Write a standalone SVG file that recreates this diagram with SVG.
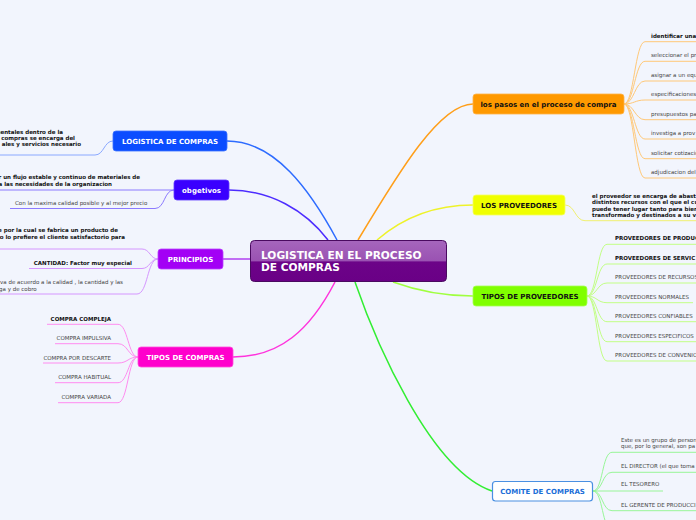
<svg xmlns="http://www.w3.org/2000/svg" width="696" height="520" viewBox="0 0 696 520">
<defs>
<linearGradient id="cg" x1="0" y1="0" x2="0" y2="1">
<stop offset="0" stop-color="#a666bd"/>
<stop offset="0.5" stop-color="#9a52b2"/>
<stop offset="0.52" stop-color="#6c0388"/>
<stop offset="1" stop-color="#6a0086"/>
</linearGradient>
<style>
text{font-family:"DejaVu Sans",Verdana,sans-serif}
.nl{font-size:7px;font-weight:bold;text-anchor:middle}
.w{fill:#fff}.k{fill:#111}
.c{font-size:5.5px;fill:#444}
.b{font-size:5.5px;fill:#111;font-weight:bold}
.e{text-anchor:end}
.m{fill:none;stroke-width:1.5}
.s{fill:none;stroke-width:1}
</style>
</defs>
<rect width="696" height="520" fill="#f2f5fd"/>
<g id="connectors">
<path class="m" stroke="#2d6bff" d="M227,141 C275,141 310,190 337,240"/>
<path class="m" stroke="#4d2cff" d="M229,190 C270,190 305,210 328,240"/>
<path class="m" stroke="#b040f0" d="M223,259 L250,259"/>
<path class="m" stroke="#ff33dd" d="M335,282 C310,330 280,357 233,357"/>
<path class="m" stroke="#ff9f1a" d="M358,240 C400,170 440,104 473,104"/>
<path class="m" stroke="#eef22a" d="M377,240 C400,220 430,205 473,205"/>
<path class="m" stroke="#a0ff40" d="M393,282 C415,290 440,296 473,296"/>
<path class="m" stroke="#33ee33" d="M355,282 C375,340 430,470 492,491"/>
<g stroke="#8aa8ff"><path class="s" d="M113,141 C104,141 104,155 95,155 L0,155"/></g>
<g stroke="#8c7aff">
<path class="s" d="M174,190 L0,190"/>
<path class="s" d="M174,190 C164,190 165,208.5 155,208.5 L10,208.5"/>
</g>
<g stroke="#d596ff">
<path class="s" d="M158,259 C150,259 150,249 142,249 L0,249"/>
<path class="s" d="M158,259 C150,259 150,268.5 142,268.5 L29,268.5"/>
<path class="s" d="M158,259 C147,259 148,294 137,294 L0,294"/>
</g>
<g stroke="#ff8cf0">
<path class="s" d="M138,357 C128,357 128,324.3 118,324.3 L47,324.3"/>
<path class="s" d="M138,357 C128,357 128,343.7 118,343.7 L55,343.7"/>
<path class="s" d="M138,357 C128,357 128,363 118,363 L43,363"/>
<path class="s" d="M138,357 C128,357 128,382.7 118,382.7 L55,382.7"/>
<path class="s" d="M138,357 C128,357 128,402.7 118,402.7 L58,402.7"/>
</g>
<g stroke="#ffc878">
<path class="s" d="M624,104 C634,104 635,41.7 645,41.7 L696,41.7"/>
<path class="s" d="M624,104 C634,104 635,61.3 645,61.3 L696,61.3"/>
<path class="s" d="M624,104 C634,104 635,81 645,81 L696,81"/>
<path class="s" d="M624,104 C634,104 635,100 645,100 L696,100"/>
<path class="s" d="M624,104 C634,104 635,119.7 645,119.7 L696,119.7"/>
<path class="s" d="M624,104 C634,104 635,139 645,139 L696,139"/>
<path class="s" d="M624,104 C634,104 635,158.7 645,158.7 L696,158.7"/>
<path class="s" d="M624,104 C634,104 635,178 645,178 L696,178"/>
</g>
<g stroke="#f0f070"><path class="s" d="M565,205 C575,205 575,220.7 585,220.7 L696,220.7"/></g>
<g stroke="#c2ff85">
<path class="s" d="M587,296 C597,296 597,244.3 607,244.3 L696,244.3"/>
<path class="s" d="M587,296 C597,296 597,264 607,264 L696,264"/>
<path class="s" d="M587,296 C597,296 597,283 607,283 L696,283"/>
<path class="s" d="M587,296 C597,296 597,302.7 607,302.7 L693,302.7"/>
<path class="s" d="M587,296 C597,296 597,321.7 607,321.7 L696,321.7"/>
<path class="s" d="M587,296 C597,296 597,341.7 607,341.7 L696,341.7"/>
<path class="s" d="M587,296 C597,296 597,361 607,361 L696,361"/>
</g>
<g stroke="#98f598">
<path class="s" d="M593,491 C603,491 602,452.3 612,452.3 L696,452.3"/>
<path class="s" d="M593,491 C603,491 602,472.3 612,472.3 L696,472.3"/>
<path class="s" d="M593,491 L663,491"/>
<path class="s" d="M593,491 C603,491 602,510.7 612,510.7 L696,510.7"/>
<path class="s" d="M593,491 C603,491 602,530 612,530 L696,530"/>
</g>
</g>
<g id="center">
<rect x="250.5" y="240.5" width="196" height="41" rx="4" fill="url(#cg)" stroke="#4a0a60"/>
<text x="261" y="259" font-size="10.6" font-weight="bold" fill="#fff">LOGISTICA EN EL PROCESO</text>
<text x="261" y="271" font-size="10.6" font-weight="bold" fill="#fff">DE COMPRAS</text>
</g>
<g id="logistica-de-compras">
<rect x="113" y="131" width="114" height="20" rx="3" fill="#0b4dff" stroke="#3a72ff" stroke-width="0.8"/>
<text class="nl w" x="170" y="143.8">LOGISTICA DE COMPRAS</text>
<text class="b e" x="63" y="133.5">mentales dentro de la</text>
<text class="b e" x="75" y="139.8">compras se encarga del</text>
<text class="b e" x="81" y="146.2">ales y  servicios necesario</text>
</g>
<g id="obgetivos">
<rect x="174" y="180" width="55" height="20" rx="3" fill="#3a00ff" stroke="#5f3aff" stroke-width="0.8"/>
<text class="nl w" x="201.5" y="192.8">obgetivos</text>
<text class="b e" x="140" y="178.5">r un flujo estable y continuo de materiales de</text>
<text class="b e" x="112" y="185.5">a las necesidades de la organizacion</text>
<text class="c" x="15" y="204.7">Con la maxima calidad posible y al mejor precio</text>
</g>
<g id="principios">
<rect x="158" y="249" width="65" height="20" rx="3" fill="#a300f5" stroke="#b940ff" stroke-width="0.8"/>
<text class="nl w" x="190.5" y="261.8">PRINCIPIOS</text>
<text class="b e" x="118" y="232">e por la cual se fabrica un producto de</text>
<text class="b e" x="125" y="239.2">no lo prefiere el cliente satisfactorio para</text>
<text class="b e" x="132" y="265.3">CANTIDAD: Factor muy especial</text>
<text class="c e" x="123" y="284">va de acuerdo a la calidad , la cantidad y las</text>
<text class="c e" x="36.7" y="291">ga y de cobro</text>
</g>
<g id="tipos-de-compras">
<rect x="138" y="347" width="95" height="20" rx="3" fill="#ff00cc" stroke="#ff4ddb" stroke-width="0.8"/>
<text class="nl w" x="185.5" y="359.8">TIPOS DE COMPRAS</text>
<text class="b e" x="111" y="321">COMPRA COMPLEJA</text>
<text class="c e" x="111" y="340">COMPRA IMPULSIVA</text>
<text class="c e" x="111" y="360">COMPRA POR DESCARTE</text>
<text class="c e" x="111" y="379">COMPRA HABITUAL</text>
<text class="c e" x="111" y="399">COMPRA VARIADA</text>
</g>
<g id="pasos">
<rect x="473" y="94" width="151" height="20" rx="3" fill="#ff9900" stroke="#ffb347" stroke-width="0.8"/>
<text class="nl k" x="548.5" y="106.8">los pasos en el proceso de compra</text>
<text class="b" x="651" y="38">identificar una</text>
<text class="c" x="651" y="57.3">seleccionar el pr</text>
<text class="c" x="651" y="77">asignar a un equ</text>
<text class="c" x="651" y="96.3">especificaciones</text>
<text class="c" x="651" y="116.3">presupuestos pa</text>
<text class="c" x="651" y="135.3">investiga a prov</text>
<text class="c" x="651" y="155.3">solicitar cotizacio</text>
<text class="c" x="651" y="174.3">adjudicacion del</text>
</g>
<g id="los-proveedores">
<rect x="473" y="195" width="92" height="20" rx="3" fill="#f0ff00" stroke="#f5ff60" stroke-width="0.8"/>
<text class="nl k" x="519" y="207.8">LOS PROVEEDORES</text>
<text class="b" x="592" y="198">el proveedor se encarga de abast</text>
<text class="b" x="592" y="204.4">distintos recursos con el que el cu</text>
<text class="b" x="592" y="210.8">puede tener lugar tanto para bien</text>
<text class="b" x="592" y="217.2">transformado y destinados a su v</text>
</g>
<g id="tipos-de-proveedores">
<rect x="473" y="286" width="114" height="20" rx="3" fill="#80ff00" stroke="#a6ff50" stroke-width="0.8"/>
<text class="nl k" x="530" y="298.8">TIPOS DE PROVEEDORES</text>
<text class="b" x="615" y="240">PROVEEDORES DE PRODUC</text>
<text class="b" x="615" y="260.3">PROVEEDORES DE SERVIC</text>
<text class="c" x="615" y="279.3">PROVEEDORES DE RECURSOS</text>
<text class="c" x="615" y="299">PROVEEDORES NORMALES</text>
<text class="c" x="615" y="318">PROVEEDORES CONFIABLES</text>
<text class="c" x="615" y="338">PROVEEDORES ESPECIFICOS</text>
<text class="c" x="615" y="357.3">PROVEEDORES DE CONVENIO</text>
</g>
<g id="comite-de-compras">
<rect x="492.5" y="481.5" width="100" height="19.5" rx="3" fill="#fff" stroke="#4a90e2" stroke-width="1.2"/>
<text class="nl" x="542.5" y="494" fill="#1a6ed8">COMITE DE COMPRAS</text>
<text class="c" x="621" y="442">Este es un grupo de person</text>
<text class="c" x="621" y="448">que, por lo general, son pa</text>
<text class="c" x="621" y="468">EL DIRECTOR (el que toma</text>
<text class="c" x="621" y="486.3">EL TESORERO</text>
<text class="c" x="621" y="507">EL GERENTE DE PRODUCCI</text>
</g>
</svg>
